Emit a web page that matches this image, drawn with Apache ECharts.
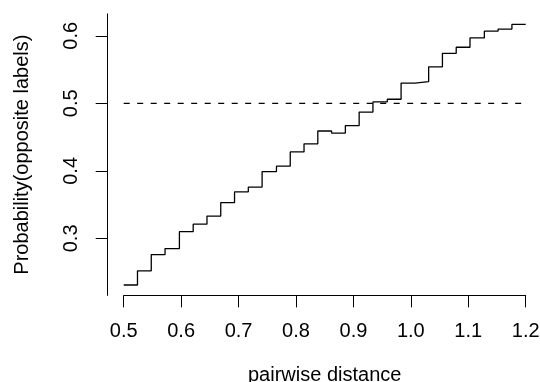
<!DOCTYPE html>
<html>
<head>
<meta charset="utf-8">
<title>Probability of opposite labels vs pairwise distance</title>
<script src="https://cdn.jsdelivr.net/npm/echarts@6/dist/echarts.min.js"></script>
<style>
  html, body { margin: 0; padding: 0; background: #ffffff; }
  #chart { width: 540px; height: 382px; }
</style>
</head>
<body>
<div id="chart"></div>
<script>
// Distance grid (30 points from 0.5 to 1.2)
const distance = [
  0.5, 0.524, 0.548, 0.572, 0.597, 0.621, 0.645, 0.669, 0.693, 0.717,
  0.741, 0.766, 0.790, 0.814, 0.838, 0.862, 0.886, 0.910, 0.934, 0.959,
  0.983, 1.007, 1.031, 1.055, 1.079, 1.103, 1.128, 1.152, 1.176, 1.2
];
// Estimated probability that a pair carries opposite labels
const probability = [
  0.231, 0.252, 0.276, 0.285, 0.310, 0.321, 0.333, 0.353, 0.369, 0.376,
  0.399, 0.407, 0.428, 0.440, 0.459, 0.456, 0.467, 0.487, 0.502, 0.506,
  0.530, 0.532, 0.554, 0.574, 0.583, 0.597, 0.607, 0.610, 0.617, 0.617
];
// Reference level (chance)
const referenceLevel = 0.5;
const referenceSpan = [0.5, 1.2];

const xTicks = [0.5, 0.6, 0.7, 0.8, 0.9, 1.0, 1.1, 1.2];
const yTicks = [0.3, 0.4, 0.5, 0.6];

const xTitle = 'pairwise distance';
const yTitle = 'Probability(opposite labels)';

const stepData = distance.map((d, i) => [d, probability[i]]);
const refData = referenceSpan.map(d => [d, referenceLevel]);

const font = 'Liberation Sans, Arial, Helvetica, sans-serif';
const ink = '#000000';

const chart = echarts.init(document.getElementById('chart'), null, { renderer: 'canvas' });

chart.setOption({
  animation: false,
  backgroundColor: '#ffffff',
  grid: {
    left: 123.7, right: 14.3, top: 13.9, bottom: 86.6,
    containLabel: false,
    outerBoundsMode: 'none'
  },
  xAxis: {
    type: 'value',
    min: xTicks[0],
    max: xTicks[xTicks.length - 1],
    interval: 0.1,
    name: xTitle,
    nameLocation: 'middle',
    nameGap: 70,
    nameTextStyle: { fontFamily: font, fontSize: 20, color: ink },
    axisLine: { show: true, lineStyle: { color: ink, width: 1 } },
    axisTick: { show: true, length: 12, lineStyle: { color: ink, width: 1 }, customValues: xTicks },
    axisLabel: {
      customValues: xTicks,
      margin: 26,
      fontFamily: font, fontSize: 20, color: ink,
      formatter: v => v.toFixed(1)
    },
    splitLine: { show: false }
  },
  yAxis: {
    type: 'value',
    min: 0.2156,
    max: 0.6324,
    offset: 16,
    name: yTitle,
    nameLocation: 'middle',
    nameGap: 75,
    nameRotate: 90,
    nameTextStyle: { fontFamily: font, fontSize: 20, color: ink },
    axisLine: { show: true, lineStyle: { color: ink, width: 1 } },
    axisTick: { show: true, length: 12, lineStyle: { color: ink, width: 1 }, customValues: yTicks },
    axisLabel: {
      customValues: yTicks,
      rotate: 90,
      margin: 26,
      fontFamily: font, fontSize: 20, color: ink,
      formatter: v => v.toFixed(1)
    },
    splitLine: { show: false }
  },
  series: [
    {
      name: 'probability',
      type: 'line',
      step: 'end',
      data: stepData,
      showSymbol: false,
      symbol: 'none',
      lineStyle: { color: ink, width: 1.3 },
      silent: true
    },
    {
      name: 'reference',
      type: 'line',
      data: refData,
      showSymbol: false,
      symbol: 'none',
      lineStyle: { color: ink, width: 1.3, type: [6, 7.5] },
      silent: true
    }
  ]
});
</script>
</body>
</html>
